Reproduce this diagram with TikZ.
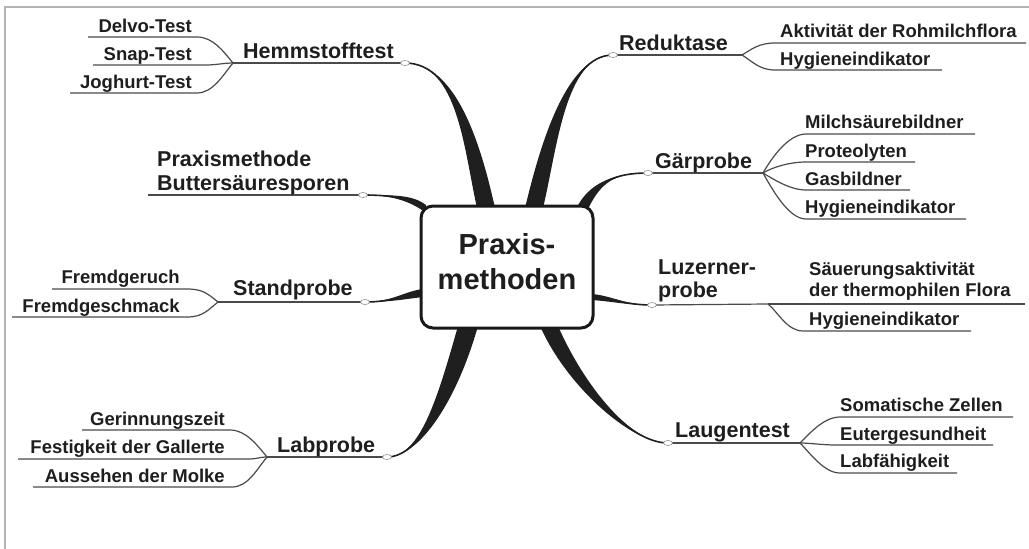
\documentclass[tikz,border=0pt]{standalone}
\usepackage{fontspec}
\setmainfont{Liberation Sans}
\usetikzlibrary{calc,shapes.geometric}
\pgfdeclarelayer{bg}
\pgfsetlayers{bg,main}
\definecolor{txt}{HTML}{1E1E1E}
\definecolor{ln}{HTML}{4A4A4A}
\definecolor{framegray}{HTML}{B4B4B4}
\newcommand\kfont{\fontsize{18.5}{21}\selectfont\bfseries}
\newcommand\bfont{\fontsize{21.5}{23.5}\selectfont\bfseries}
\newcommand\cfont{\fontsize{29}{35}\selectfont\bfseries}
% tapered main branch: #1 knob, #2 control 1, #3 control 2, #4 base centre, #5/#6 half base offset
\newcommand\taperbranch[6]{%
  \fill[branchfill] (#1) .. controls (#2) and ($(#3)+(#5,#6)$) .. ($(#4)+(#5,#6)$)
     -- ($(#4)-(#5,#6)$) .. controls ($(#3)-(#5,#6)$) and (#2) .. (#1) -- cycle;
  \draw[branchline] (#1) .. controls (#2) and (#3) .. (#4);}
\begin{document}
\begin{tikzpicture}[x=1pt,y=-1pt,
  kid/.style={font=\kfont,text=txt,inner sep=0pt},
  br/.style={font=\bfont,text=txt,inner sep=0pt},
  uline/.style={draw=ln,line width=1.2pt},
  branchfill/.style={fill=black!88},
  branchline/.style={draw=black!88,line width=1.6pt},
  knob/.style={ellipse,draw=black!45,fill=white,line width=0.6pt,minimum width=9pt,minimum height=5pt,inner sep=0pt},
  centre/.style={draw=black!90,line width=3pt,rounded corners=12pt,fill=white,minimum width=172pt,minimum height=122pt,inner sep=0pt}]
\useasboundingbox (0,0) rectangle (1029,549);
\draw[framegray,line width=2pt] (1029,7) -- (5,7) -- (5,549);

% centre
\node[centre] (box) at (507,267) {};
\node[font=\cfont,text=txt,align=center,inner sep=0pt] (title) at (507,262) {Praxis-\\methoden};

% knobs
\node[knob] (e1) at (405,63) {};
\node[knob] (e2) at (363,195) {};
\node[knob] (e3) at (365,302) {};
\node[knob] (e4) at (387,457) {};
\node[knob] (e5) at (613,55) {};
\node[knob] (e6) at (648,173) {};
\node[knob] (e7) at (652,305) {};
\node[knob] (e8) at (668,443) {};

% junctions
\coordinate (j1) at (233,63);
\coordinate (j3) at (218,302);
\coordinate (j4) at (267,457);
\coordinate (j5) at (742,55);
\coordinate (j6) at (763,173);
\coordinate (j7) at (768,304);
\coordinate (j8) at (800,443);
\coordinate (b2) at (148,195);

% labels left
\node[kid,anchor=base east] (delvo) at (192,32) {Delvo-Test};
\node[kid,anchor=base east] (snap) at (192,60) {Snap-Test};
\node[kid,anchor=base east] (jog) at (192,88) {Joghurt-Test};
\node[br,anchor=base west] (hemm) at (243,58) {Hemmstofftest};
\node[br,anchor=south west,align=left] (butter) at (157,195) {Praxismethode\\Buttersäuresporen};
\node[kid,anchor=base east] (fgeruch) at (180,283) {Fremdgeruch};
\node[kid,anchor=base east] (fgeschm) at (180,312) {Fremdgeschmack};
\node[br,anchor=base west] (stand) at (233,295) {Standprobe};
\node[kid,anchor=base east] (gerinn) at (225,425) {Gerinnungszeit};
\node[kid,anchor=base east] (festig) at (225,453) {Festigkeit der Gallerte};
\node[kid,anchor=base east] (aussehen) at (225,482) {Aussehen der Molke};
\node[br,anchor=base west] (lab) at (277,452) {Labprobe};
% labels right
\node[br,anchor=base west] (red) at (619,50) {Reduktase};
\node[kid,anchor=base west] (aktiv) at (780,37) {Aktivität der Rohmilchflora};
\node[kid,anchor=base west] (hyg1) at (780,65) {Hygieneindikator};
\node[br,anchor=base west] (gaer) at (655,168) {Gärprobe};
\node[kid,anchor=base west] (milch) at (805,128) {Milchsäurebildner};
\node[kid,anchor=base west] (proteo) at (805,157) {Proteolyten};
\node[kid,anchor=base west] (gas) at (805,185) {Gasbildner};
\node[kid,anchor=base west] (hyg2) at (805,213) {Hygieneindikator};
\node[br,anchor=south west,align=left] (luz) at (658,302.5) {Luzerner-\\probe};
\node[kid,anchor=south west,align=left] (saeu) at (809,301) {Säuerungsaktivität\\der thermophilen Flora};
\node[kid,anchor=base west] (hyg3) at (809,325) {Hygieneindikator};
\node[br,anchor=base west] (laug) at (675,437) {Laugentest};
\node[kid,anchor=base west] (soma) at (840,411) {Somatische Zellen};
\node[kid,anchor=base west] (euter) at (840,440) {Eutergesundheit};
\node[kid,anchor=base west] (labf) at (840,467) {Labfähigkeit};

\begin{pgfonlayer}{bg}
% main underlines
\draw[uline] (j1) -- (e1.center);
\draw[uline] (b2) -- (e2.center);
\draw[uline] (j3) -- (e3.center);
\draw[uline] (j4) -- (e4.center);
\draw[uline] (e5.center) -- (j5);
\draw[uline] (e6.center) -- (j6);
\draw[uline] (e7.center) -- (j7);
\draw[uline] (e8.center) -- (j8);
% children left
\draw[uline] (88,37) -- (197,37) .. controls +(16,0) and +(-10,-12) .. (j1);
\draw[uline] (93,65) -- (205,65) .. controls +(12,0) and +(-10,0) .. (j1);
\draw[uline] (70,93) -- (197,93) .. controls +(16,0) and +(-10,12) .. (j1);
\draw[uline] (52,289) -- (187,289) .. controls +(16,0) and +(-10,-8) .. (j3);
\draw[uline] (12,317) -- (187,317) .. controls +(16,0) and +(-10,8) .. (j3);
\draw[uline] (82,430) -- (230,430) .. controls +(16,0) and +(-10,-12) .. (j4);
\draw[uline] (18,459) -- (248,459) .. controls +(10,0) and +(-8,0) .. (j4);
\draw[uline] (33,487) -- (232,487) .. controls +(16,0) and +(-10,12) .. (j4);
% children right
\draw[uline] (j5) .. controls +(10,-6) and +(-16,0) .. (775,43) -- (1026,43);
\draw[uline] (j5) .. controls +(10,6) and +(-16,0) .. (775,70) -- (942,70);
\draw[uline] (j6) .. controls +(8,-14) and +(-18,0) .. (806,134) -- (975,134);
\draw[uline] (j6) .. controls +(10,-6) and +(-16,0) .. (806,162) -- (915,162);
\draw[uline] (j6) .. controls +(10,6) and +(-16,0) .. (806,190) -- (910,190);
\draw[uline] (j6) .. controls +(8,14) and +(-18,0) .. (806,219) -- (966,219);
\draw[uline] (j7) -- (1025,304);
\draw[uline] (j7) .. controls +(10,8) and +(-16,0) .. (803,331) -- (971,331);
\draw[uline] (j8) .. controls +(10,-10) and +(-16,0) .. (840,417) -- (1013,417);
\draw[uline] (j8) .. controls +(10,0) and +(-12,0) .. (835,445) -- (993,445);
\draw[uline] (j8) .. controls +(10,10) and +(-16,0) .. (840,473) -- (957,473);
% tapered main branches
\taperbranch{e1.center}{458,63}{473,150}{486,208}{9}{0}
\taperbranch{e5.center}{565,55}{548,150}{534,208}{9}{0}
\taperbranch{e6.center}{615,173}{595,182}{582,209}{6}{0}
\taperbranch{e2.center}{395,195}{413,199}{426,209}{0}{4}
\taperbranch{e3.center}{392,302}{405,295}{423,293}{0}{4}
\taperbranch{e7.center}{625,305}{610,298}{591,297}{0}{3}
\taperbranch{e4.center}{420,457}{447,400}{468,326}{10}{0}
\taperbranch{e8.center}{630,443}{575,385}{549,326}{9}{0}
\end{pgfonlayer}
\end{tikzpicture}
\end{document}
